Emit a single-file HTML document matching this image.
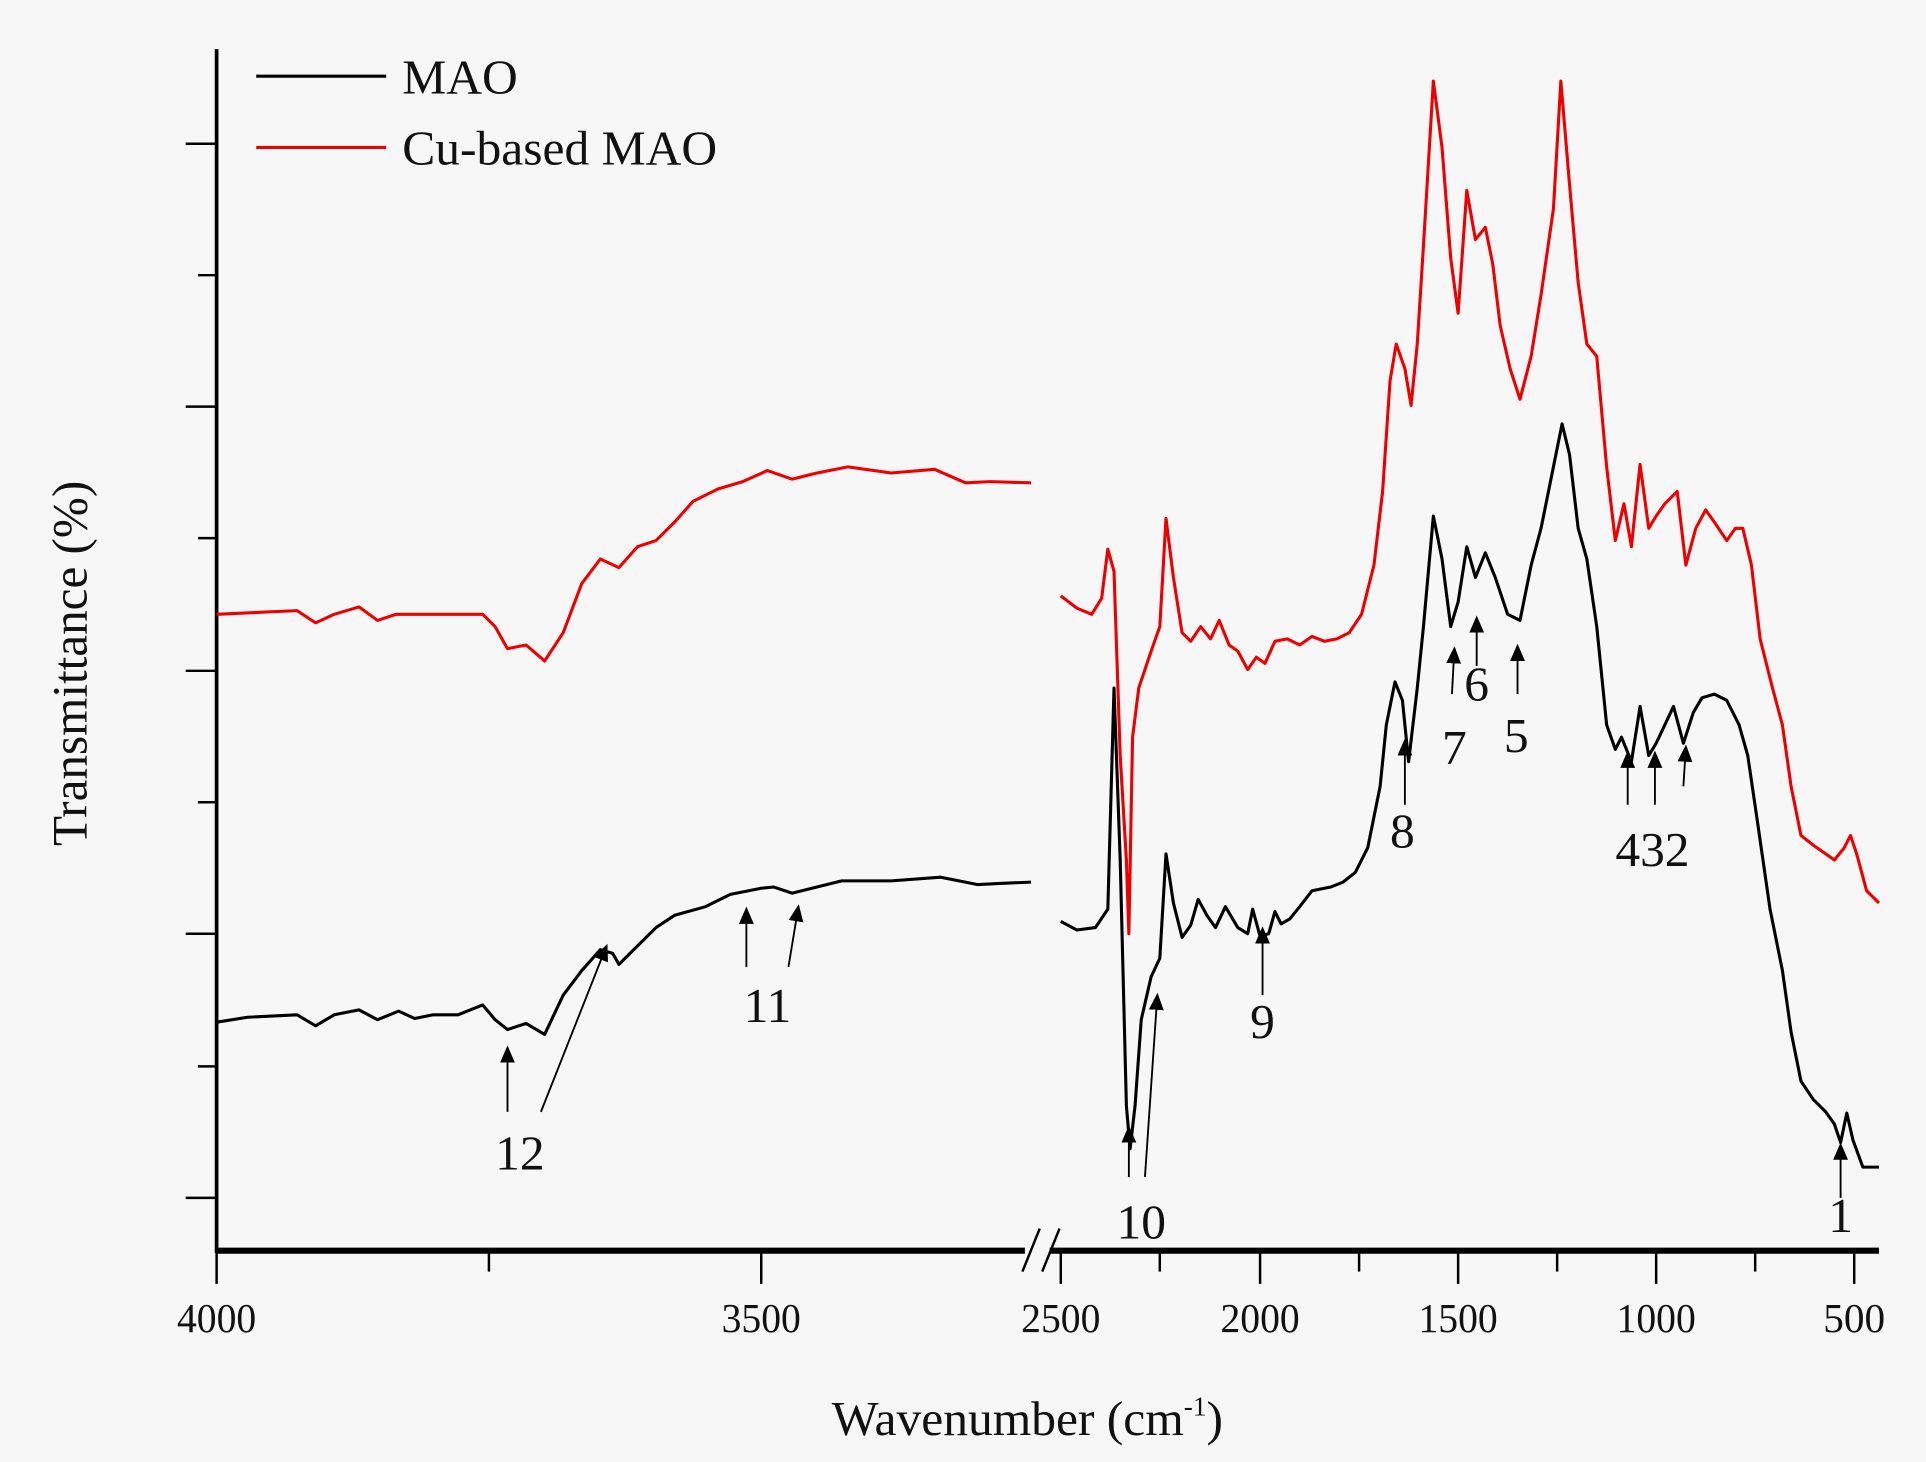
<!DOCTYPE html>
<html><head><meta charset="utf-8"><style>
html,body{margin:0;padding:0;background:#f7f7f7;}
svg{display:block;}
text{font-family:"Liberation Serif",serif;fill:#111;}
</style></head><body>
<svg width="1926" height="1462" viewBox="0 0 1556 1190" preserveAspectRatio="none" xmlns="http://www.w3.org/2000/svg">
<rect width="1556" height="1190" fill="#f7f7f7"/>
<defs>
<marker id="a" markerWidth="14" markerHeight="14" refX="12" refY="7" orient="auto" markerUnits="userSpaceOnUse"><path d="M0,1 L14,7 L0,13 z" fill="#000"/></marker></defs>
<g stroke="#000" fill="none">
<line x1="175" y1="40" x2="175" y2="1020" stroke-width="3"/>
<line x1="175" y1="1018" x2="828" y2="1018" stroke-width="5"/>
<line x1="848" y1="1018" x2="1518" y2="1018" stroke-width="5"/>
<line x1="826" y1="1035" x2="840" y2="1000" stroke-width="2"/>
<line x1="842" y1="1035" x2="856" y2="1000" stroke-width="2"/>
<g stroke-width="2">
<line x1="150" y1="117" x2="175" y2="117"/><line x1="150" y1="331" x2="175" y2="331"/><line x1="150" y1="546" x2="175" y2="546"/><line x1="150" y1="760" x2="175" y2="760"/><line x1="150" y1="975" x2="175" y2="975"/>
<line x1="160" y1="224" x2="175" y2="224"/><line x1="160" y1="438" x2="175" y2="438"/><line x1="160" y1="653" x2="175" y2="653"/><line x1="160" y1="868" x2="175" y2="868"/>
<line x1="175" y1="1018" x2="175" y2="1045"/><line x1="395" y1="1018" x2="395" y2="1035"/><line x1="615" y1="1018" x2="615" y2="1045"/>
<line x1="857" y1="1018" x2="857" y2="1045"/><line x1="937" y1="1018" x2="937" y2="1035"/><line x1="1018" y1="1018" x2="1018" y2="1045"/><line x1="1098" y1="1018" x2="1098" y2="1035"/><line x1="1178" y1="1018" x2="1178" y2="1045"/><line x1="1258" y1="1018" x2="1258" y2="1035"/><line x1="1338" y1="1018" x2="1338" y2="1045"/><line x1="1418" y1="1018" x2="1418" y2="1035"/><line x1="1498" y1="1018" x2="1498" y2="1045"/>
</g></g>
<g font-size="34" text-anchor="middle">
<text x="175" y="1084" textLength="64" lengthAdjust="spacingAndGlyphs">4000</text><text x="615" y="1084" textLength="64" lengthAdjust="spacingAndGlyphs">3500</text><text x="857" y="1084" textLength="64" lengthAdjust="spacingAndGlyphs">2500</text><text x="1018" y="1084" textLength="64" lengthAdjust="spacingAndGlyphs">2000</text><text x="1178" y="1084" textLength="64" lengthAdjust="spacingAndGlyphs">1500</text><text x="1338" y="1084" textLength="64" lengthAdjust="spacingAndGlyphs">1000</text><text x="1498" y="1084" textLength="50" lengthAdjust="spacingAndGlyphs">500</text>
</g>
<text x="830" y="1168" font-size="40" text-anchor="middle">Wavenumber (cm<tspan dy="-16" font-size="22">-1</tspan><tspan dy="16">)</tspan></text>
<text transform="translate(70,540) rotate(-90)" font-size="40" text-anchor="middle">Transmittance (%)</text>
<line x1="207" y1="62" x2="312" y2="62" stroke="#000" stroke-width="2.5"/>
<line x1="207" y1="120" x2="312" y2="120" stroke="#e00" stroke-width="2.5"/>
<text x="325" y="76" font-size="40">MAO</text>
<text x="325" y="134" font-size="40">Cu-based MAO</text>
<g fill="none" stroke-width="2.5" stroke-linejoin="round">
<polyline stroke="#000" points="175,832 200,828 240,826 255,835 270,826 290,822 305,830 322,823 335,829 350,826 370,826 390,818 400,830 410,838 425,833 440,842 455,810 470,790 485,773 495,776 500,785 510,775 530,755 545,745 570,738 590,728 615,723 625,722 640,727 660,722 680,717 720,717 760,714 790,720 810,719 833,718"/>
<polyline stroke="#e00" points="175,500 240,497 255,507 270,500 290,494 305,505 320,500 390,500 400,510 410,528 425,525 440,538 455,515 470,475 485,455 500,462 515,445 530,440 545,425 560,408 580,398 600,392 620,383 640,390 660,385 685,380 720,385 755,382 780,393 800,392 833,393"/>
<polyline stroke="#000" points="857,750 870,757 885,755 895,740 900,560 905,700 910,900 913,935 917,900 922,830 930,795 937,780 942,695 948,735 955,763 962,753 968,732 975,745 982,755 990,738 1000,755 1008,760 1012,740 1018,762 1025,760 1030,742 1035,752 1042,748 1050,738 1060,725 1075,722 1085,718 1095,710 1105,690 1115,640 1120,590 1127,555 1133,570 1138,620 1145,560 1150,510 1158,420 1165,455 1172,510 1178,490 1185,445 1192,470 1200,450 1208,470 1218,500 1228,505 1237,460 1245,430 1255,380 1262,345 1268,370 1275,430 1282,455 1290,510 1298,590 1305,610 1310,600 1318,620 1325,575 1332,615 1338,605 1345,590 1352,575 1360,605 1368,580 1375,568 1385,565 1395,570 1405,590 1412,615 1420,670 1430,740 1440,790 1447,840 1455,880 1465,895 1475,905 1482,915 1487,930 1492,906 1497,928 1505,950 1518,950"/>
<polyline stroke="#e00" points="857,485 870,495 882,500 890,487 895,447 900,465 905,615 910,700 912,760 915,600 920,560 930,530 937,510 942,422 948,470 955,515 962,522 970,510 978,520 985,505 993,525 1000,530 1008,545 1015,535 1022,540 1030,522 1040,520 1050,525 1060,518 1070,522 1080,520 1090,515 1100,500 1110,460 1117,400 1123,310 1128,280 1135,300 1140,330 1145,280 1150,200 1158,66 1165,120 1172,210 1178,255 1185,155 1192,195 1200,185 1206,215 1212,265 1220,300 1228,325 1237,290 1245,240 1255,170 1261,66 1268,150 1275,230 1282,280 1290,290 1298,380 1305,440 1312,410 1318,445 1325,378 1332,430 1338,420 1345,410 1355,400 1362,460 1370,430 1378,415 1385,425 1395,440 1402,430 1408,430 1415,460 1422,520 1432,560 1440,590 1447,640 1455,680 1465,688 1475,695 1482,700 1490,690 1495,680 1500,695 1508,725 1518,735"/>
</g>
<g stroke="#000" stroke-width="1.5" marker-end="url(#a)">
<line x1="410" y1="905" x2="410" y2="853"/>
<line x1="437" y1="905" x2="490" y2="770"/>
<line x1="603" y1="787" x2="603" y2="740"/>
<line x1="637" y1="787" x2="645" y2="738"/>
<line x1="912" y1="958" x2="912" y2="918"/>
<line x1="925" y1="958" x2="935" y2="810"/>
<line x1="1020" y1="810" x2="1020" y2="756"/>
<line x1="1135" y1="655" x2="1135" y2="603"/>
<line x1="1173" y1="565" x2="1175" y2="528"/>
<line x1="1193" y1="542" x2="1193" y2="503"/>
<line x1="1226" y1="565" x2="1226" y2="526"/>
<line x1="1315" y1="655" x2="1315" y2="613"/>
<line x1="1337" y1="655" x2="1337" y2="613"/>
<line x1="1360" y1="640" x2="1362" y2="608"/>
<line x1="1487" y1="975" x2="1487" y2="932"/>
</g>
<g font-size="40" text-anchor="middle">
<text x="420" y="952">12</text><text x="620" y="832">11</text><text x="922" y="1008">10</text><text x="1020" y="845">9</text><text x="1133" y="690">8</text><text x="1175" y="622">7</text><text x="1193" y="570">6</text><text x="1225" y="612">5</text><text x="1335" y="705">432</text><text x="1487" y="1003">1</text>
</g>
</svg>
</body></html>
